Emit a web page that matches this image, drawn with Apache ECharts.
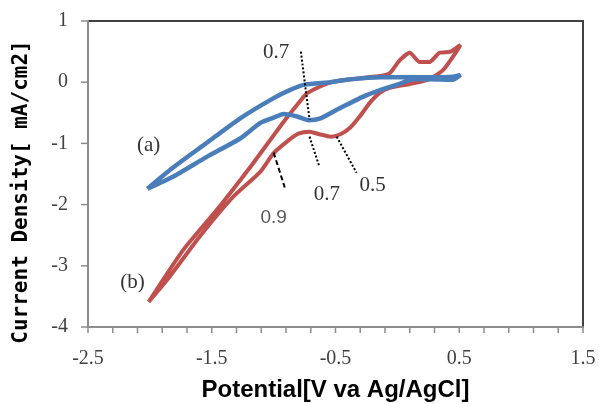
<!DOCTYPE html>
<html>
<head>
<meta charset="utf-8">
<script src="https://cdn.jsdelivr.net/npm/echarts@6/dist/echarts.min.js"></script>
<style>
  html, body { margin: 0; padding: 0; background: #fff; }
  #chart { width: 599px; height: 404px; }
</style>
</head>
<body>
<div id="chart"></div>
<script>
// curve (a): left tip -> upper branch -> right end -> lower branch -> left tip
const potentialA = [-2.02, -1.81, -1.54, -1.27, -1.00, -0.87, -0.75, -0.54, -0.41, -0.14, 0.26, 0.45, 0.51,
  0.45, 0.26, 0.13, 0.00, -0.14, -0.28, -0.49, -0.62, -0.72, -0.81, -0.92, -1.00, -1.11, -1.27, -1.54, -1.81, -2.02];
const currentA = [-1.74, -1.39, -0.99, -0.59, -0.26, -0.13, -0.04, 0.00, 0.04, 0.08, 0.08, 0.09, 0.12,
  0.04, 0.05, 0.05, -0.04, -0.13, -0.24, -0.45, -0.59, -0.62, -0.56, -0.52, -0.58, -0.67, -0.92, -1.22, -1.54, -1.74];

// curve (b)
const potentialB = [-2.01, -1.73, -1.46, -1.19, -0.92, -0.79, -0.73, -0.54, -0.28, -0.14, -0.06, 0.02, 0.10, 0.18, 0.26, 0.34, 0.43, 0.51,
  0.47, 0.37, 0.26, 0.10, -0.06, -0.14, -0.22, -0.30, -0.38, -0.46, -0.54, -0.63, -0.71, -0.80, -0.88, -1.00, -1.11, -1.33, -1.60, -1.86, -2.01];
const currentB = [-3.59, -2.74, -2.09, -1.39, -0.65, -0.32, -0.18, 0.00, 0.07, 0.10, 0.15, 0.36, 0.48, 0.33, 0.33, 0.48, 0.50, 0.61,
  0.48, 0.20, 0.05, -0.03, -0.09, -0.17, -0.33, -0.55, -0.74, -0.85, -0.89, -0.85, -0.81, -0.84, -0.95, -1.16, -1.47, -1.88, -2.53, -3.23, -3.59];

// tick positions along the axes
const xTickValues = [-2.5, -2.3, -2.1, -1.9, -1.7, -1.5, -1.3, -1.1, -0.9, -0.7, -0.5, -0.3, -0.1, 0.1, 0.3, 0.5, 0.7, 0.9, 1.1, 1.3, 1.5];
const yTickValues = [-4, -3, -2, -1, 0, 1];

// annotation texts and pointer lines (data coordinates)
const noteLabels = ['(a)', '(b)', '0.7', '0.7', '0.5', '0.9'];
const noteAt = [[-2.01, -1.04], [-2.14, -3.27], [-0.98, 0.49], [-0.57, -1.83], [-0.20, -1.68], [-1.00, -2.22]];
const dottedLines = [
  [[-0.78, 0.50], [-0.71, -0.61]],
  [[-0.71, -0.89], [-0.63, -1.38]],
  [[-0.49, -0.89], [-0.33, -1.48]]
];
const dashedLine = [[-1.00, -1.15], [-0.91, -1.72]];

const chart = echarts.init(document.getElementById('chart'), null, { renderer: 'canvas' });

const tickFont = { fontFamily: 'Liberation Serif', fontSize: 20, color: '#404040' };
const axisGray = '#8c8c8c';
const zip = (xs, ys) => xs.map((x, i) => [x, ys[i]]);

const option = {
  animation: false,
  grid: { left: 88, right: 16, top: 21, bottom: 77, outerBoundsMode: 'none' },
  xAxis: {
    type: 'value',
    min: -2.5,
    max: 1.5,
    interval: 1,
    axisLine: { show: true, onZero: false, lineStyle: { color: axisGray, width: 2 } },
    axisTick: { show: false },
    splitLine: { show: false },
    axisLabel: Object.assign({ margin: 22 }, tickFont),
    name: 'Potential[V va Ag/AgCl]',
    nameLocation: 'middle',
    nameGap: 51,
    nameTextStyle: { fontFamily: 'Liberation Sans', fontWeight: 'bold', fontSize: 24, color: '#000' }
  },
  yAxis: {
    type: 'value',
    min: -4,
    max: 1,
    interval: 1,
    axisLine: { show: true, onZero: false, lineStyle: { color: axisGray, width: 2 } },
    axisTick: { show: false },
    splitLine: { show: false },
    axisLabel: Object.assign({ margin: 20 }, tickFont)
  },
  series: [{
    name: '(b)',
    type: 'line',
    data: zip(potentialB, currentB),
    symbol: 'none',
    smooth: 0.2,
    lineStyle: { color: '#c0504d', width: 4 },
    markLine: {
      silent: true,
      symbol: 'none',
      label: { show: false },
      data: dottedLines.map(l => [
        { coord: l[0], lineStyle: { type: 'dotted', color: '#000', width: 2 } },
        { coord: l[1] }
      ]).concat([[
        { coord: dashedLine[0], lineStyle: { type: [5, 3], color: '#000', width: 2 } },
        { coord: dashedLine[1] }
      ]])
    }
  }, {
    name: '(a)',
    type: 'line',
    data: zip(potentialA, currentA),
    symbol: 'none',
    smooth: 0.2,
    lineStyle: { color: '#4a7ebb', width: 4.5 }
  }]
};

chart.setOption(option);

const toPx = v => chart.convertToPixel({ gridIndex: 0 }, v);

// dark frame on the top and right edges of the plot
const tl = toPx([-2.5, 1]);
const br = toPx([1.5, -4]);
const frame = {
  type: 'polyline',
  shape: { points: [[tl[0], tl[1]], [br[0], tl[1]], [br[0], br[1]]] },
  style: { stroke: '#404040', lineWidth: 2, fill: null }
};

const ticks = xTickValues.map(v => {
  const p = toPx([v, -4]);
  return { type: 'line', shape: { x1: p[0], y1: p[1], x2: p[0], y2: p[1] + 6 }, style: { stroke: axisGray, lineWidth: 1.5 } };
}).concat(yTickValues.map(v => {
  const p = toPx([-2.5, v]);
  return { type: 'line', shape: { x1: p[0] - 7, y1: p[1], x2: p[0], y2: p[1] }, style: { stroke: axisGray, lineWidth: 1.5 } };
}));

const yTitle = {
  type: 'text',
  x: 22,
  y: 192,
  rotation: Math.PI / 2,
  style: {
    text: 'Current Density[ mA/cm2]',
    fontFamily: 'DejaVu Sans Mono',
    fontWeight: 'bold',
    fontSize: 21,
    fill: '#000',
    align: 'center',
    verticalAlign: 'middle'
  }
};

const notes = noteLabels.map((t, i) => {
  const p = toPx(noteAt[i]);
  return {
    type: 'text',
    x: p[0],
    y: p[1],
    style: {
      text: t,
      fontFamily: t === '0.9' ? 'Liberation Sans' : 'Liberation Serif',
      fontSize: t === '0.9' ? 19 : 21,
      fill: t === '0.9' ? '#595959' : '#333',
      align: 'center',
      verticalAlign: 'middle'
    }
  };
});

chart.setOption({ graphic: [frame, yTitle].concat(ticks, notes) });
</script>
</body>
</html>
